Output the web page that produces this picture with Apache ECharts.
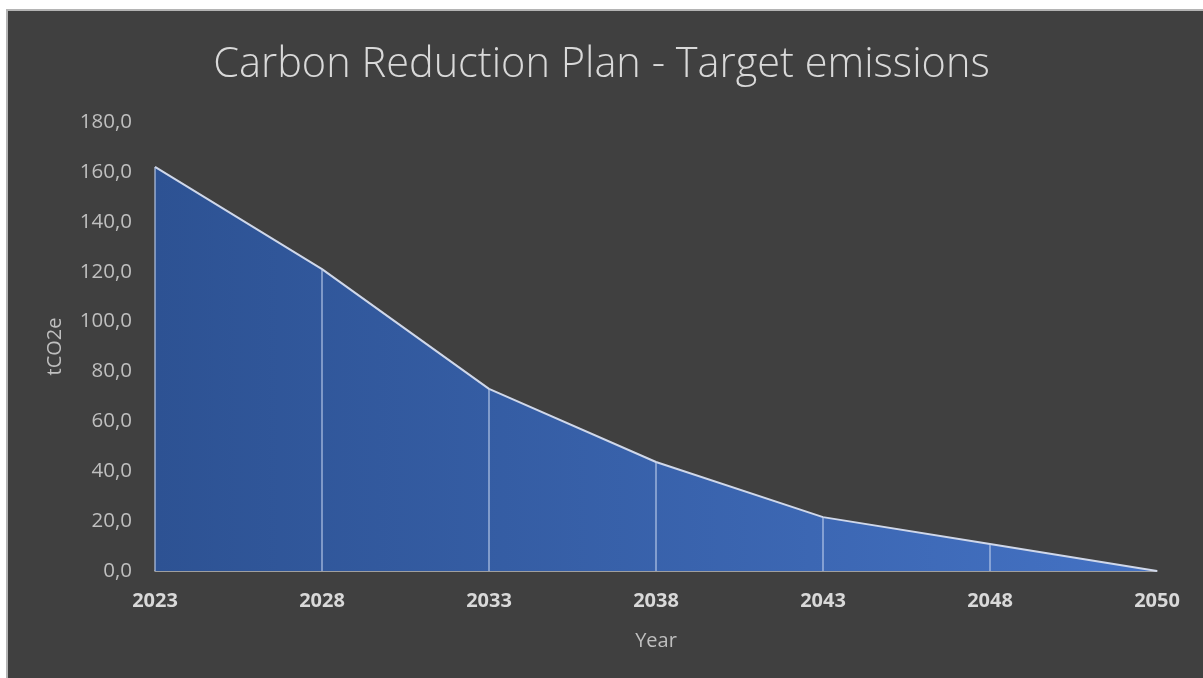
<!DOCTYPE html>
<html><head><meta charset="utf-8">
<script src="https://cdn.jsdelivr.net/npm/echarts@6/dist/echarts.min.js"></script>
<style>
html,body{margin:0;padding:0;background:#fff;width:1203px;height:678px;overflow:hidden}
#bg{position:absolute;left:6px;top:9px;right:0;bottom:0;background:#404040;border-left:2px solid #b4b4b4;border-top:2px solid #b4b4b4}
#chart{position:absolute;left:0;top:0;width:1203px;height:678px}
</style></head>
<body>
<div id="bg"></div>
<div id="chart"></div>
<script>
const years = ['2023','2028','2033','2038','2043','2048','2050'];
const emissions = [162.0, 121.0, 73.0, 43.7, 21.6, 10.8, 0.0];
const yTicks = {min: 0, max: 180, interval: 20};

const chart = echarts.init(document.getElementById('chart'), null, {renderer: 'canvas'});
chart.setOption({
  backgroundColor: 'transparent',
  animation: false,
  title: {
    text: 'Carbon Reduction Plan - Target emissions',
    left: 'center', top: 39,
    textStyle: {color: '#d9d9d9', fontFamily: 'Open Sans', fontWeight: 300, fontSize: 41.5}
  },
  grid: {left: 155, right: 46, top: 122, bottom: 107},
  xAxis: {
    type: 'category', data: years, boundaryGap: false,
    axisLine: {lineStyle: {color: '#bfbfbf', width: 1.5}},
    axisTick: {show: false},
    axisLabel: {color: '#d9d9d9', fontFamily: 'Open Sans', fontWeight: 'bold', fontSize: 20, margin: 20},
    name: 'Year', nameLocation: 'middle', nameGap: 60,
    nameTextStyle: {color: '#bfbfbf', fontFamily: 'Open Sans', fontSize: 20}
  },
  yAxis: {
    type: 'value', min: yTicks.min, max: yTicks.max, interval: yTicks.interval,
    axisLine: {show: false}, axisTick: {show: false}, splitLine: {show: false},
    axisLabel: {color: '#bfbfbf', fontFamily: 'Open Sans', fontSize: 20.5, margin: 23,
      formatter: v => v.toFixed(1).replace('.', ',')},
    name: 'tCO2e', nameLocation: 'middle', nameGap: 90, nameRotate: 90,
    nameTextStyle: {color: '#bfbfbf', fontFamily: 'Open Sans', fontSize: 20}
  },
  series: [
    {
      type: 'line', data: emissions, symbol: 'none', z: 2,
      lineStyle: {color: '#d0d8ea', width: 2},
      areaStyle: {opacity: 1, color: new echarts.graphic.LinearGradient(0, 0, 1, 0, [
        {offset: 0, color: '#2d5293'}, {offset: 1, color: '#4472c4'}])}
    },
    {
      type: 'bar', data: emissions, barWidth: 1.5, z: 3, silent: true,
      itemStyle: {color: 'rgba(190,205,235,0.75)'}
    }
  ]
});
</script>
</body></html>
